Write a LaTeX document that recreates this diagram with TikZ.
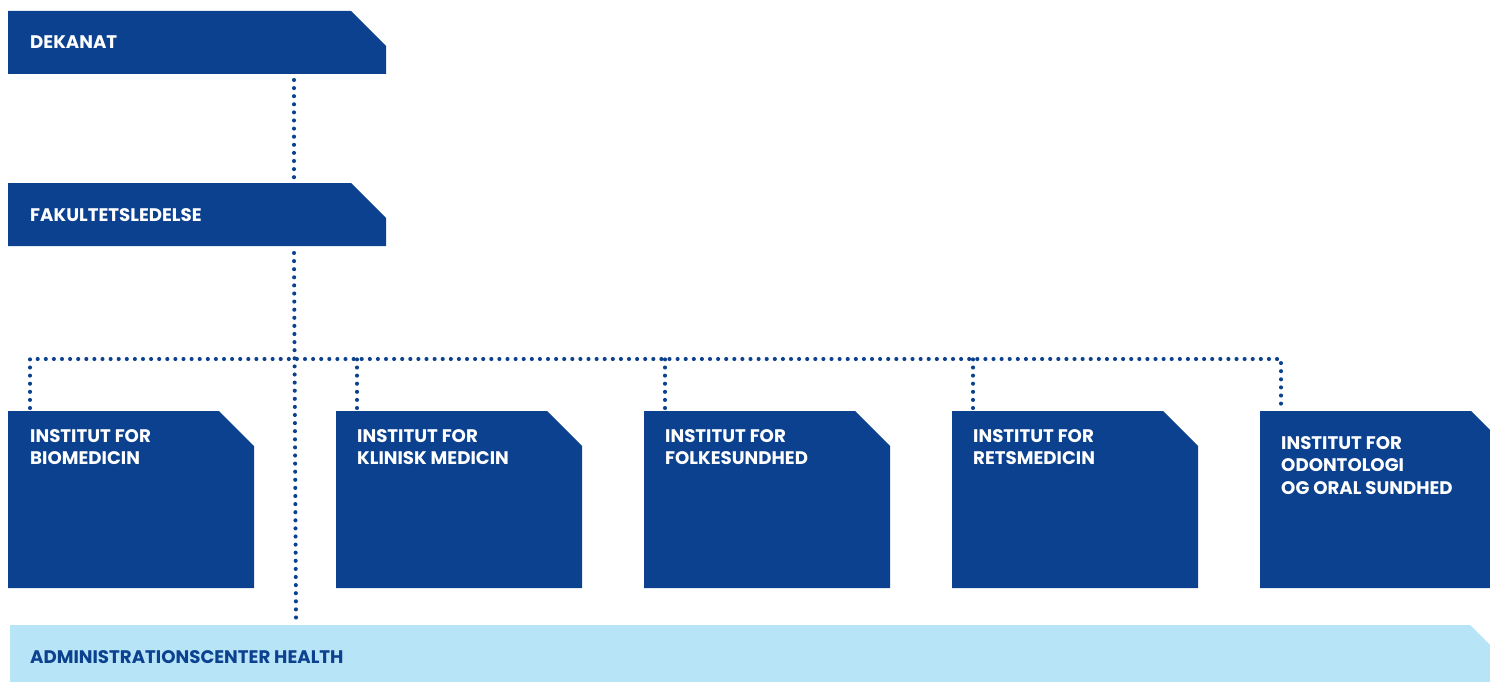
\documentclass[tikz,border=0pt]{standalone}
\usepackage{fontspec}
\setmainfont{Poppins}
\usetikzlibrary{positioning}
\definecolor{kublue}{RGB}{11,65,143}
\definecolor{kulight}{RGB}{184,228,248}
\tikzset{
  cutbox/.style n args={2}{inner sep=0pt, outer sep=0pt, anchor=north west,
    path picture={\fill[#1] (path picture bounding box.south west) |- ([xshift=-#2]path picture bounding box.north east)
      -- ([yshift=-#2]path picture bounding box.north east) -- (path picture bounding box.south east) -- cycle;}},
  lbl/.style={text=white, inner sep=0pt, anchor=base west, align=left,
    font=\bfseries\fontsize{18.2}{22.5}\selectfont},
  dots/.style={draw=kublue, line width=4.1pt, line cap=round, dash pattern=on 0pt off 8.1pt},
}

\begin{document}
\begin{tikzpicture}[x=1pt, y=-1pt]
			%%%%% START %%%%%
			\useasboundingbox (0,0) rectangle (1490,682);
			\clip (0,0) rectangle (1490,682);
			
			% top of the chart
			\node[cutbox={kublue}{35pt}, minimum width=378pt, minimum height=63pt] (dekanat) at (8,11) {};
			\node[lbl] (dekanattxt) at (30,49) {DEKANAT};
			
			\node[cutbox={kublue}{35pt}, minimum width=378pt, minimum height=63pt] (fakultet) at (8,183) {};
			\node[lbl] (fakultettxt) at (30,221) {FAKULTETSLEDELSE};
			
			% institutter
			\node[cutbox={kublue}{35pt}, minimum width=246pt, minimum height=177pt] (bio) at (8,411) {};
			\node[lbl, anchor=north west] (biotxt) at (30,429) {INSTITUT FOR\\BIOMEDICIN};
			
			\node[cutbox={kublue}{35pt}, minimum width=246pt, minimum height=177pt] (klin) at (336,411) {};
			\node[lbl, anchor=north west] (klintxt) at (357,429) {INSTITUT FOR\\KLINISK MEDICIN};
			
			\node[cutbox={kublue}{35pt}, minimum width=246pt, minimum height=177pt] (folk) at (644,411) {};
			\node[lbl, anchor=north west] (folktxt) at (665,429) {INSTITUT FOR\\FOLKESUNDHED};
			
			\node[cutbox={kublue}{35pt}, minimum width=246pt, minimum height=177pt] (rets) at (952,411) {};
			\node[lbl, anchor=north west] (retstxt) at (973,429) {INSTITUT FOR\\RETSMEDICIN};
			
			\node[cutbox={kublue}{35pt}, minimum width=246pt, minimum height=177pt] (odont) at (1260,411) {};
			\node[lbl, anchor=north west] (odonttxt) at (1281,436) {INSTITUT FOR\\ODONTOLOGI\\OG ORAL SUNDHED};
			
			% administration
			\node[cutbox={kulight}{22pt}, minimum width=1482pt, minimum height=70pt] (admin) at (10,625) {};
			\node[lbl, text=kublue] (admintxt) at (30,663) {ADMINISTRATIONSCENTER HEALTH};
			
			% dotted lines
			\coordinate (hub) at (294,359);
			\draw[dots] ([xshift=286pt, yshift=-6pt]dekanat.south west) -- ([xshift=286pt, yshift=4pt]fakultet.north west);
			\draw[dots] ([xshift=286pt, yshift=-7pt]fakultet.south west) -- ([xshift=286pt, yshift=5pt]admin.north west);
			\draw[dots] ([xshift=22pt, yshift=3pt]bio.north west) -- ([xshift=22pt]bio.north west |- hub)
			  -- ([xshift=21pt]odont.north west |- hub) -- ([xshift=21pt, yshift=3pt]odont.north west);
			\draw[dots] ([xshift=21pt, yshift=3pt]klin.north west) -- ([xshift=21pt]klin.north west |- hub);
			\draw[dots] ([xshift=21pt, yshift=3pt]folk.north west) -- ([xshift=21pt]folk.north west |- hub);
			\draw[dots] ([xshift=21pt, yshift=3pt]rets.north west) -- ([xshift=21pt]rets.north west |- hub);
			
			%%%%% END %%%%%
\end{tikzpicture}
\end{document}
